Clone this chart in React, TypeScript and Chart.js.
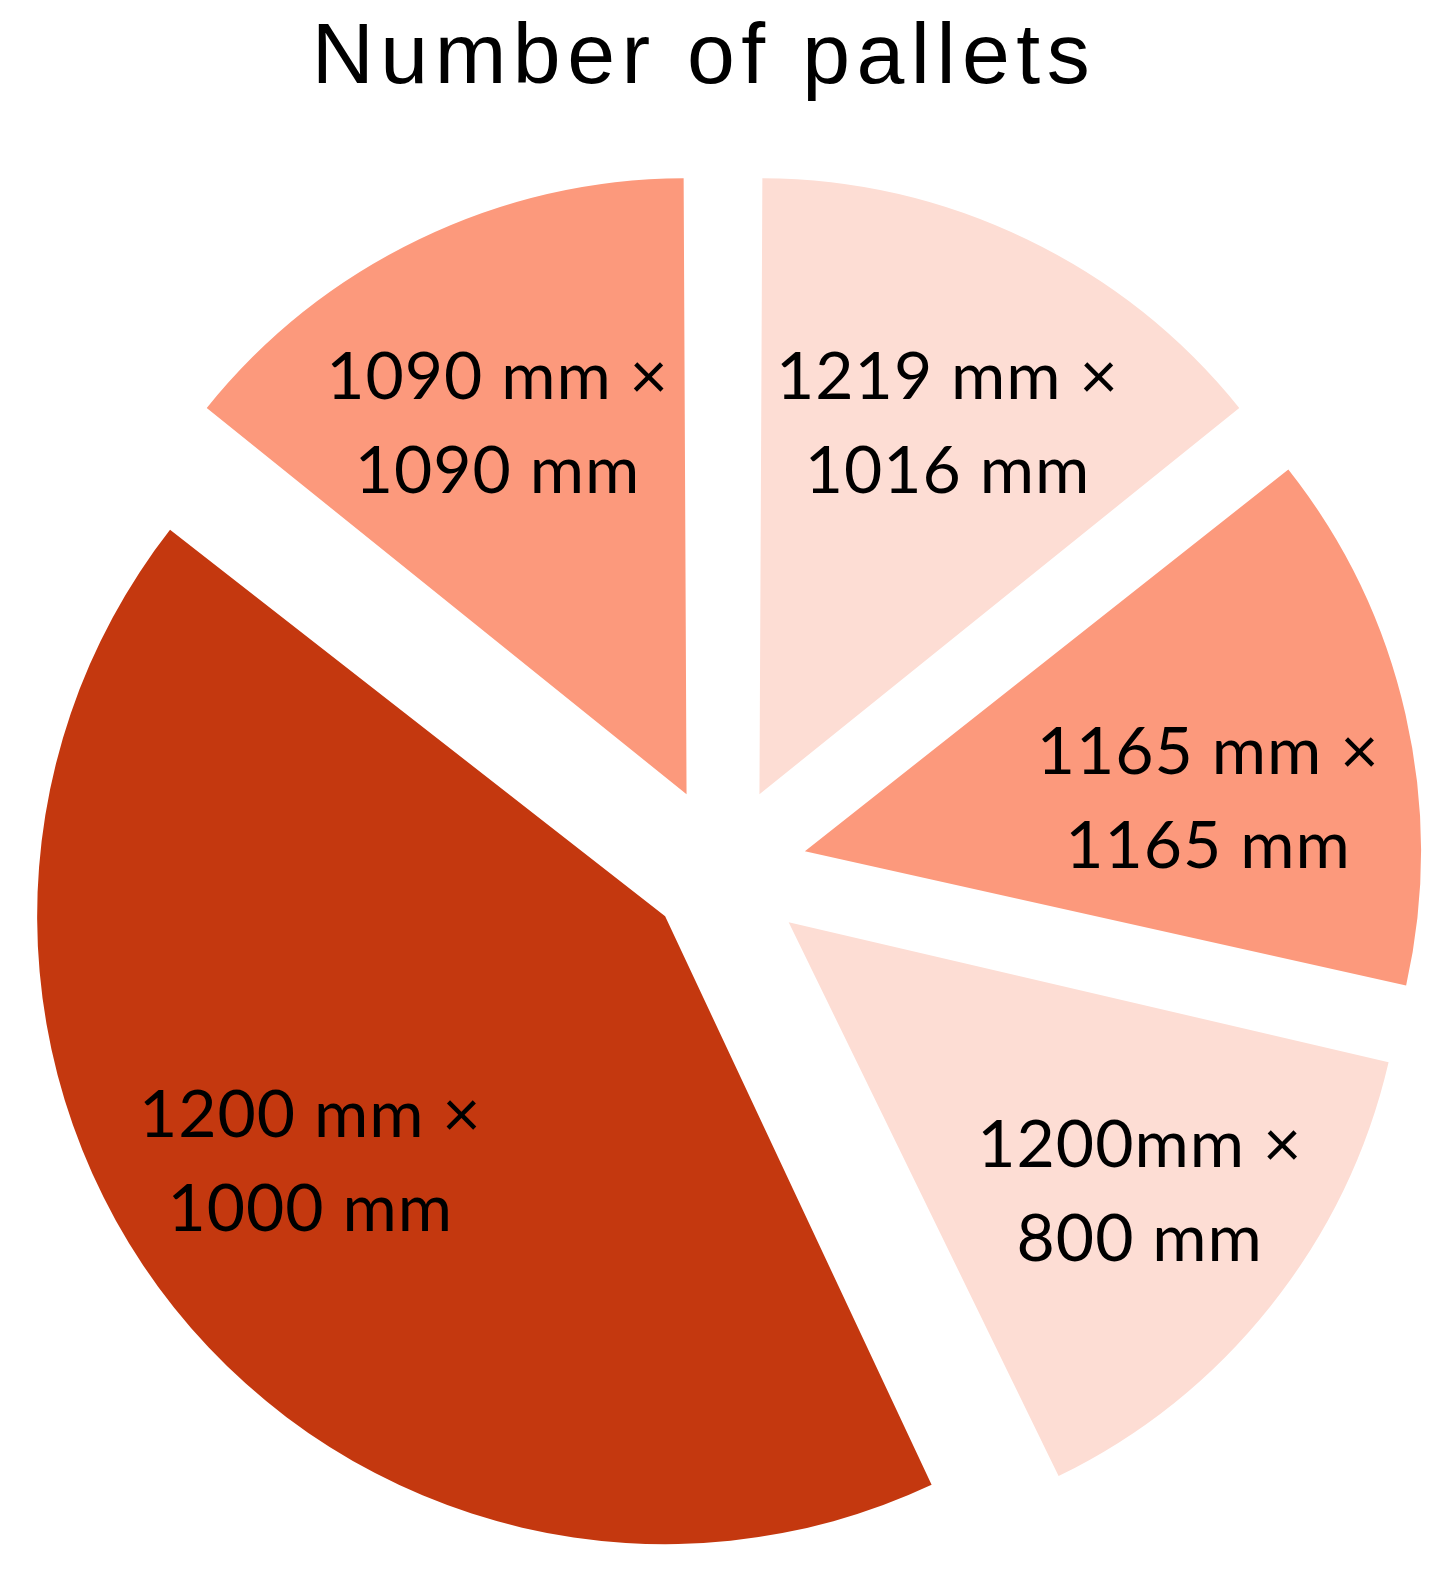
import React, { useEffect, useRef } from 'react';
import { Chart, registerables } from 'chart.js';

Chart.register(...registerables);

// ---- data ----
const TITLE = 'Number of pallets';
const categories = [
  '1219 mm × 1016 mm',
  '1165 mm × 1165 mm',
  '1200 mm × 800 mm',
  '1200 mm × 1000 mm',
  '1090 mm × 1090 mm',
];
const labelLine1 = ['1219 mm ×', '1165 mm ×', '1200mm ×', '1200 mm ×', '1090 mm ×'];
const labelLine2 = ['1016 mm', '1165 mm', '800 mm', '1000 mm', '1090 mm'];
const palletShares = [1, 1, 1, 3, 1];

// ---- styles ----
const sliceColors = ['#FDDDD4', '#FC997C', '#FDDDD4', '#C4380F', '#FC997C'];
const BASE_RADIUS = 597.7;
const sliceOffsets = [336, 336, 336, 296, 336];
const radiusAdjust = [0, 0, 0, -11.6, 0];
const labelDist = [501, 490.5, 525.8, 504.3, 501.6];
const labelAngleShift = [0.9, 4.3, -1.0, 3.5, -1.0];
const LABEL_FONT = '66px Lato, "Open Sans", sans-serif';
const TITLE_FONT = '86px "Liberation Sans", Arial, sans-serif';

const radiusPlugin = {
  id: 'radiusTweak',
  afterDatasetsUpdate(chart: any) {
    const meta = chart.getDatasetMeta(0);
    meta.data.forEach((arc: any, i: number) => {
      arc.outerRadius = BASE_RADIUS + radiusAdjust[i];
    });
  },
};

const labelPlugin = {
  id: 'sliceLabels',
  afterDatasetsDraw(chart: any) {
    const meta = chart.getDatasetMeta(0);
    const ctx = chart.ctx as any;
    ctx.save();
    ctx.font = LABEL_FONT;
    ctx.fillStyle = '#000';
    ctx.textAlign = 'center';
    ctx.textBaseline = 'alphabetic';
    try { ctx.letterSpacing = '1px'; } catch (e) {}
    meta.data.forEach((arc: any, i: number) => {
      const { x, y, startAngle, endAngle } = arc.getProps(['x', 'y', 'startAngle', 'endAngle'], true);
      const a = (startAngle + endAngle) / 2 + (labelAngleShift[i] * Math.PI) / 180;
      const cx = x + Math.cos(a) * labelDist[i];
      const cy = y + Math.sin(a) * labelDist[i];
      ctx.fillText(labelLine1[i], cx, cy - 23.2);
      ctx.fillText(labelLine2[i], cx, cy + 70.8);
    });
    ctx.restore();
  },
};

const titlePlugin = {
  id: 'bigTitle',
  afterDraw(chart: any) {
    const ctx = chart.ctx as any;
    ctx.save();
    ctx.font = TITLE_FONT;
    ctx.fillStyle = '#000';
    ctx.textAlign = 'center';
    ctx.textBaseline = 'alphabetic';
    try { ctx.letterSpacing = '6.5px'; } catch (e) {}
    ctx.fillText(TITLE, 704, 83);
    ctx.restore();
  },
};

export default function App() {
  const ref = useRef<HTMLCanvasElement>(null);
  useEffect(() => {
    const chart = new Chart(ref.current as HTMLCanvasElement, {
      type: 'pie',
      data: {
        labels: categories,
        datasets: [
          {
            data: palletShares,
            backgroundColor: sliceColors,
            borderWidth: 0,
            offset: sliceOffsets,
            radius: BASE_RADIUS,
          } as any,
        ],
      },
      options: {
        animation: false,
        responsive: false,
        events: [],
        layout: { padding: { left: 1, right: 0, top: 160, bottom: 0 } },
        plugins: {
          legend: { display: false },
          tooltip: { enabled: false },
          title: { display: false },
        },
      } as any,
      plugins: [radiusPlugin, labelPlugin, titlePlugin],
    });
    return () => chart.destroy();
  }, []);
  return (
    <div style={{ position: 'fixed', left: 0, top: 0, width: 1445, height: 1580, background: '#fff' }}>
      <canvas ref={ref} width={1445} height={1580} style={{ width: 1445, height: 1580, display: 'block' }} />
    </div>
  );
}
